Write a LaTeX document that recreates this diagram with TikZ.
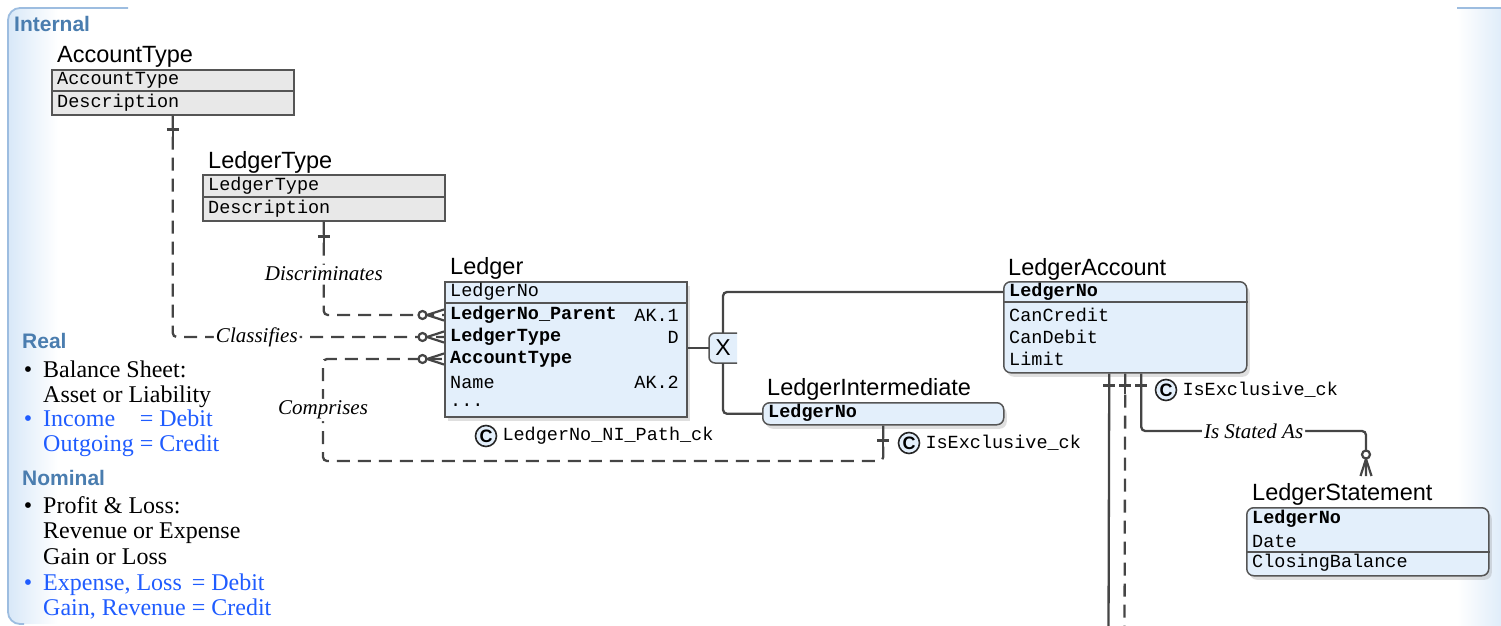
\documentclass[tikz,border=0pt]{standalone}
\usepackage{fontspec}
\setmainfont{Liberation Serif}
\setsansfont{Liberation Sans}
\setmonofont{Liberation Mono}
\usetikzlibrary{positioning,shadows}

\definecolor{entfill}{HTML}{E3EFFB}
\definecolor{refgray}{HTML}{E8E8E8}
\definecolor{boxline}{HTML}{555555}
\definecolor{linegray}{HTML}{454545}
\definecolor{hdrblue}{HTML}{4A7DAF}
\definecolor{noteblue}{HTML}{1F5CFF}
\definecolor{panelblue}{HTML}{D8E8F8}
\definecolor{panelline}{HTML}{9DBDE0}

\begin{document}
\begin{tikzpicture}[x=1pt, y=-1pt,
    ent title/.style={font=\sffamily\fontsize{23.5}{26}\selectfont, inner sep=0pt, anchor=base west},
    ref box/.style={draw=boxline, line width=1.5pt, fill=refgray, inner sep=0pt, anchor=north west},
    ent box/.style={ref box, fill=entfill, drop shadow={shadow xshift=3pt, shadow yshift=-4pt, opacity=.25}},
    ent rbox/.style={ent box, rounded corners=7pt},
    attr/.style={font=\ttfamily\fontsize{18.5}{20}\selectfont, inner sep=0pt, anchor=west},
    key attr/.style={attr, font=\ttfamily\bfseries\fontsize{18.5}{20}\selectfont},
    attr tag/.style={attr, anchor=east},
    rowline/.style={draw=boxline, line width=1.2pt},
    rel/.style={draw=linegray, line width=2.3pt, rounded corners=4pt},
    id rel/.style={rel, dash pattern=on 13pt off 8pt},
    verb phrase/.style={font=\itshape\fontsize{21}{24}\selectfont, fill=white, inner sep=2pt},
    ck mark/.style={circle, draw=black!85, line width=1.6pt, fill=entfill, inner sep=0pt, minimum size=21pt, font=\sffamily\bfseries\fontsize{18}{18}\selectfont},
    group hdr/.style={font=\sffamily\bfseries\fontsize{21}{24}\selectfont, text=hdrblue, inner sep=0pt, anchor=base west},
    note line/.style={font=\fontsize{24}{26}\selectfont, inner sep=0pt, anchor=base west},
    blue line/.style={note line, text=noteblue},
    card/.style={draw=linegray, line width=2.2pt},
    pics/zmany/.style={code={
      \draw[card] (-17,0) -- (0,-5.5) (-17,0) -- (0,5.5);
      \draw[card, fill=white] (-21.5,0) circle[radius=4];
    }},
    pics/onetick/.style={code={
      \draw[card, line width=2.3pt] (0,-12) -- (0,8);
      \draw[card] (-6,0) -- (6,0);
    }},
  ]
  \useasboundingbox (0,0) rectangle (1501,626);

  % group panel
  \begin{scope}
    \clip[rounded corners=12pt] (8,8) rectangle (300,624);
    \shade[left color=panelblue, right color=white] (8,8) rectangle (58,624);
  \end{scope}
  \shade[left color=white, right color=panelblue!80] (1457,8) rectangle (1501,626);
  \draw[draw=panelline, line width=1.8pt, rounded corners=12pt] (128,8) -- (8,8) -- (8,624) -- (24,624);
  \draw[draw=panelline, line width=1.8pt] (1457,8) -- (1501,8);
  \node[group hdr] (internalHdr) at (14,32) {Internal};

  % reference tables
  \node[ent title] (accttypeTitle) at (57,63) {AccountType};
  \node[ref box, minimum width=242pt, minimum height=45pt] (accttype) at (51,69) {};
  \draw[rowline] ([yshift=-22pt]accttype.north west) -- ([yshift=-22pt]accttype.north east);
  \node[attr] (accttypeKey) at (57,80) {AccountType};
  \node[attr] (accttypeDesc) at (57,102.5) {Description};

  \node[ent title] (ltypeTitle) at (208,168) {LedgerType};
  \node[ref box, minimum width=242pt, minimum height=46pt] (ltype) at (202,174) {};
  \draw[rowline] ([yshift=-23pt]ltype.north west) -- ([yshift=-23pt]ltype.north east);
  \node[attr] (ltypeKey) at (208,186) {LedgerType};
  \node[attr] (ltypeDesc) at (208,208.5) {Description};

  % Ledger
  \node[ent title] (ledgerTitle) at (450,274) {Ledger};
  \node[ent box, minimum width=242pt, minimum height=135pt] (ledger) at (444,281) {};
  \draw[rowline] ([yshift=-22pt]ledger.north west) -- ([yshift=-22pt]ledger.north east);
  \node[attr] (ledgerNo) at (450,292) {LedgerNo};
  \node[key attr] (ledgerParent) at (450,315) {LedgerNo\_Parent};
  \node[attr tag] (ledgerAK1) at (679,315) {AK.1};
  \node[key attr] (ledgerLType) at (450,337) {LedgerType};
  \node[attr tag] (ledgerD) at (679,337) {D};
  \node[key attr] (ledgerAType) at (450,359) {AccountType};
  \node[attr] (ledgerName) at (450,382) {Name};
  \node[attr tag] (ledgerAK2) at (679,382) {AK.2};
  \node[attr] (ledgerMore) at (450,405) {...};
  \node[ck mark] (ckPath) at (486,436) {C};
  \node[attr, right=5pt of ckPath] (ckPathName) {LedgerNo\_NI\_Path\_ck};

  % exclusive subtype
  \path[draw=boxline, line width=1.5pt, fill=entfill, rounded corners=6pt]
    (737,333) -- (709,333) -- (709,363) -- (737,363);
  \node[font=\sffamily\fontsize{23}{24}\selectfont, inner sep=0pt, minimum width=28pt, minimum height=30pt] (xsub) at (723,348) {X};

  % LedgerAccount
  \node[ent title] (lacctTitle) at (1008,275) {LedgerAccount};
  \node[ent rbox, minimum width=243pt, minimum height=91pt] (lacct) at (1003,281) {};
  \draw[rowline] ([yshift=-21pt]lacct.north west) -- ([yshift=-21pt]lacct.north east);
  \node[key attr] (lacctKey) at (1009,292) {LedgerNo};
  \node[attr] (lacctCredit) at (1009,315) {CanCredit};
  \node[attr] (lacctDebit) at (1009,337) {CanDebit};
  \node[attr] (lacctLimit) at (1009,359) {Limit};
  \node[ck mark] (ckAcct) at (1166,390) {C};
  \node[attr, right=5pt of ckAcct] (ckAcctName) {IsExclusive\_ck};

  % LedgerIntermediate
  \node[ent title] (linterTitle) at (767,395) {LedgerIntermediate};
  \node[ent rbox, minimum width=241pt, minimum height=22pt] (linter) at (762,402) {};
  \node[key attr] (linterKey) at (768,413) {LedgerNo};
  \node[ck mark] (ckInter) at (909,443) {C};
  \node[attr, right=5pt of ckInter] (ckInterName) {IsExclusive\_ck};

  % LedgerStatement
  \node[ent title] (lstmtTitle) at (1252,500) {LedgerStatement};
  \node[ent rbox, minimum width=242pt, minimum height=68pt] (lstmt) at (1246,507) {};
  \draw[rowline] ([yshift=-45pt]lstmt.north west) -- ([yshift=-45pt]lstmt.north east);
  \node[key attr] (lstmtKey) at (1252,519) {LedgerNo};
  \node[attr] (lstmtDate) at (1252,541) {Date};
  \node[attr] (lstmtBal) at (1252,563) {ClosingBalance};

  % relations
  \coordinate (lacctOutA) at (1108.5,632);
  \coordinate (lacctOutB) at (1124.5,632);
  \coordinate (stmtIn) at (1366,476);
  \draw[id rel] (accttype.south) |- node[verb phrase, pos=.655] {Classifies} (ledger.west |- ledgerLType);
  \draw[id rel] (ltype.south) |- node[verb phrase, pos=.28] {Discriminates} (ledger.west |- ledgerParent);
  \draw[id rel] (linter.south) |- (323,461) -- node[verb phrase, pos=.5] {Comprises} (323,359) -- (ledger.west |- ledgerAType);
  \draw[rel] (ledger.east |- xsub) -- (xsub.west);
  \draw[rel] (xsub.north) |- (lacct.west |- lacctKey);
  \draw[rel] (xsub.south) |- (linter.west);
  \draw[rel] ([xshift=-16pt]lacct.south) -- (lacctOutA);
  \draw[id rel] (lacct.south) -- (lacctOutB);
  \draw[rel] ([xshift=16pt]lacct.south) |- node[verb phrase, pos=.75] {Is Stated As} (stmtIn |- 0,431) -- (stmtIn);

  % cardinalities
  \pic at ([yshift=-14pt]accttype.south) {onetick};
  \pic at ([yshift=-15pt]ltype.south) {onetick};
  \pic at ([yshift=-15pt]linter.south) {onetick};
  \foreach \dx in {-16,0,16}
    \pic at ([xshift=\dx pt, yshift=-12pt]lacct.south) {onetick};
  \foreach \row in {ledgerParent,ledgerLType,ledgerAType}
    \pic at (ledger.west |- \row) {zmany};
  \pic[rotate=-90] at (stmtIn) {zmany};

  % account classes
  \node[group hdr] (realHdr) at (22,348) {Real};
  \node[note line] (realA) at (43,377) {\llap{\textbullet\hspace{11pt}}Balance Sheet:};
  \node[note line] (realB) at (43,402) {Asset or Liability};
  \node[blue line] (realC) at (43,426) {\llap{\textbullet\hspace{11pt}}\rlap{Income}\phantom{Outgoing} = Debit};
  \node[blue line] (realD) at (43,451) {Outgoing = Credit};
  \node[group hdr] (nominalHdr) at (22,485) {Nominal};
  \node[note line] (nomA) at (43,513) {\llap{\textbullet\hspace{11pt}}Profit \& Loss:};
  \node[note line] (nomB) at (43,538.5) {Revenue or Expense};
  \node[note line] (nomC) at (43,564.5) {Gain or Loss};
  \node[blue line] (nomD) at (43,590) {\llap{\textbullet\hspace{11pt}}\rlap{Expense, Loss}\phantom{Gain, Revenue} = Debit};
  \node[blue line] (nomE) at (43,615.5) {Gain, Revenue = Credit};
\end{tikzpicture}
\end{document}
